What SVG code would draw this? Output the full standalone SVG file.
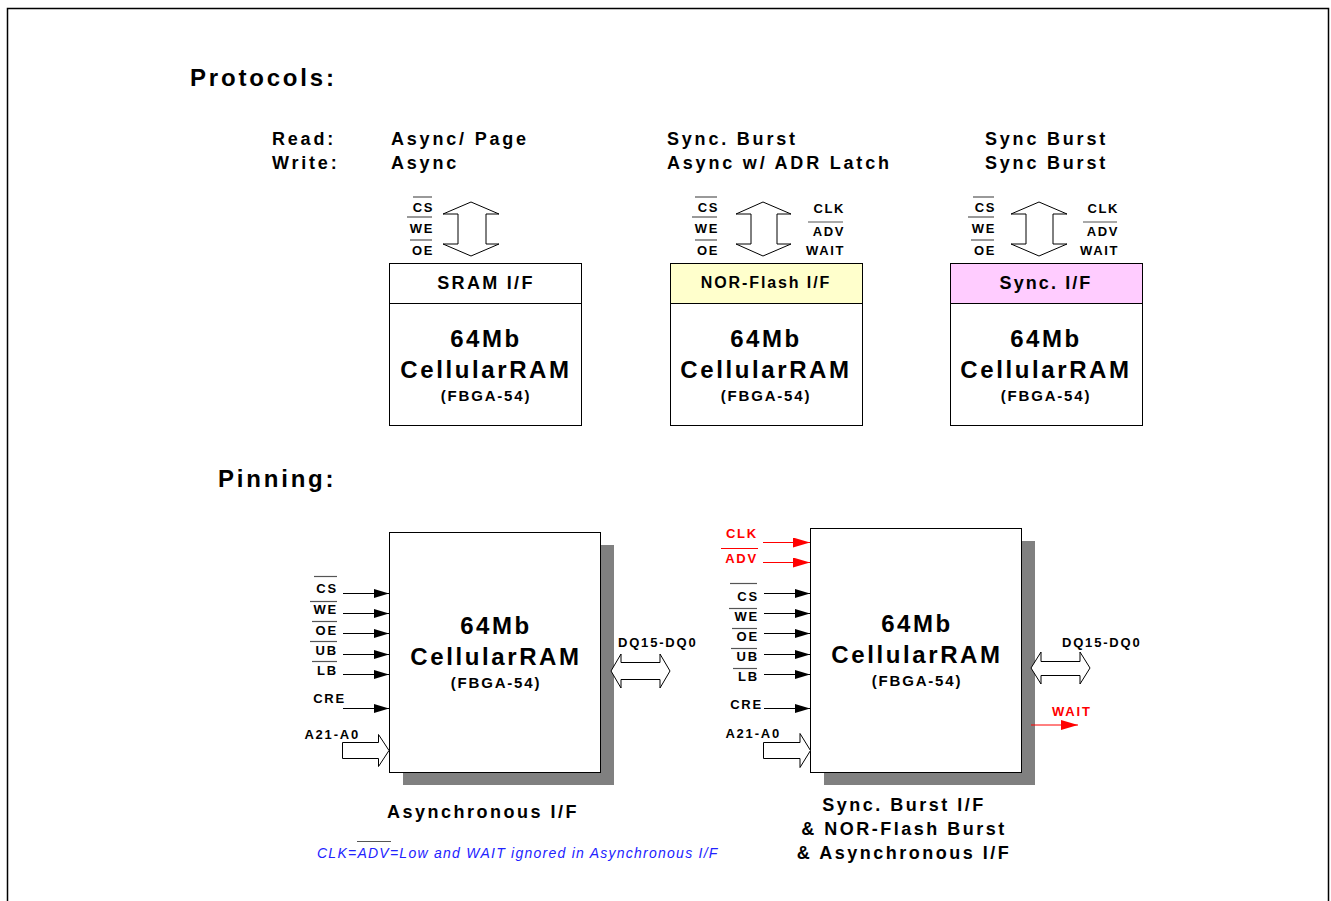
<svg xmlns="http://www.w3.org/2000/svg" width="1331" height="901" viewBox="0 0 1331 901">
<defs>
<style>
text{font-family:"Liberation Sans",Arial,sans-serif;font-weight:bold;fill:#000}
.h1{font-size:24px;letter-spacing:2.8px}
.proto{font-size:18px;letter-spacing:2.8px}
.sig{font-size:13px;letter-spacing:1.6px}
.pin{font-size:13px;letter-spacing:1.8px}
.hdr{font-size:18px;letter-spacing:2.3px;text-anchor:middle}
.big{font-size:24px;letter-spacing:2.6px;text-anchor:middle}
.pkg{font-size:15px;letter-spacing:1.8px;text-anchor:middle}
.cap{font-size:18px;letter-spacing:2.5px;text-anchor:middle}
.red{fill:#FF0000}
.end{text-anchor:end}
.box{fill:#fff;stroke:#000;stroke-width:1}
.shadow{fill:#808080}
.ol{stroke:#555;stroke-width:1.2}
.olr{stroke:#FF0000;stroke-width:1.2}
.wire{stroke:#000;stroke-width:1;fill:none}
.wirer{stroke:#FF0000;stroke-width:1;fill:none}
.fat{fill:#fff;stroke:#000;stroke-width:1}
.note{font-family:"Liberation Sans",Arial,sans-serif;font-weight:normal;font-style:italic;font-size:14px;letter-spacing:1.25px;fill:#2222FF}
</style>
<marker id="ah" markerUnits="userSpaceOnUse" markerWidth="15" markerHeight="9" refX="15" refY="4.5" orient="auto"><path d="M0,0 L15,4.5 L0,9 z" fill="#000"/></marker>
<marker id="ahr" markerUnits="userSpaceOnUse" markerWidth="17" markerHeight="10" refX="17" refY="5" orient="auto"><path d="M0,0 L17,5 L0,10 z" fill="#FF0000"/></marker>
</defs>
<rect x="0" y="0" width="1331" height="901" fill="#fff"/>
<rect x="7.5" y="8.5" width="1321" height="900" fill="none" stroke="#000" stroke-width="1.5"/>

<g id="headings">
<text class="h1" x="190" y="86">Protocols:</text>
<text class="h1" x="218" y="487">Pinning:</text>
<text class="proto" x="272" y="145">Read:</text>
<text class="proto" x="272" y="169">Write:</text>
<text class="proto" x="391" y="145">Async/ Page</text>
<text class="proto" x="391" y="169">Async</text>
<text class="proto" x="667" y="145">Sync. Burst</text>
<text class="proto" x="667" y="169">Async w/ ADR Latch</text>
<text class="proto" x="985" y="145">Sync Burst</text>
<text class="proto" x="985" y="169">Sync Burst</text>
</g>

<g id="proto-sram">
<rect class="box" x="389.5" y="263.5" width="192" height="162"/>
<line class="wire" x1="389.5" y1="303.5" x2="581.5" y2="303.5"/>
<text class="hdr" x="486" y="289">SRAM I/F</text>
<text class="big" x="486" y="347">64Mb</text>
<text class="big" x="486" y="378">CellularRAM</text>
<text class="pkg" x="486" y="401">(FBGA-54)</text>
<polygon class="fat" points="471,202 499,214 486,214 486,244 499,244 471,256 443,244 458,244 458,214 443,214"/>
<text class="sig end" x="434" y="212">CS</text>
<text class="sig end" x="434" y="233">WE</text>
<text class="sig end" x="434" y="255">OE</text>
<line class="ol" x1="413" y1="197" x2="432" y2="197"/>
<line class="ol" x1="407" y1="217" x2="432" y2="217"/>
<line class="ol" x1="410" y1="240" x2="432" y2="240"/>
</g>

<g id="proto-nor">
<rect x="670.5" y="263.5" width="192" height="40" fill="#FFFFCC"/>
<rect class="box" x="670.5" y="263.5" width="192" height="162" style="fill:none"/>
<line class="wire" x1="670.5" y1="303.5" x2="862.5" y2="303.5"/>
<text class="hdr" x="766" y="288" style="font-size:16px;letter-spacing:1.9px">NOR-Flash I/F</text>
<text class="big" x="766" y="347">64Mb</text>
<text class="big" x="766" y="378">CellularRAM</text>
<text class="pkg" x="766" y="401">(FBGA-54)</text>
<polygon class="fat" points="763,202 791,214 777,214 777,244 791,244 763,256 736,244 751,244 751,214 736,214"/>
<text class="sig end" x="719" y="212">CS</text>
<text class="sig end" x="719" y="233">WE</text>
<text class="sig end" x="719" y="255">OE</text>
<line class="ol" x1="695" y1="197" x2="717" y2="197"/>
<line class="ol" x1="692" y1="217" x2="717" y2="217"/>
<line class="ol" x1="695" y1="240" x2="717" y2="240"/>
<text class="sig end" x="845" y="213">CLK</text>
<text class="sig end" x="845" y="236">ADV</text>
<text class="sig end" x="845" y="255">WAIT</text>
<line class="ol" x1="808" y1="222" x2="843" y2="222"/>
</g>

<g id="proto-sync">
<rect x="950.5" y="263.5" width="192" height="40" fill="#FFCCFF"/>
<rect class="box" x="950.5" y="263.5" width="192" height="162" style="fill:none"/>
<line class="wire" x1="950.5" y1="303.5" x2="1142.5" y2="303.5"/>
<text class="hdr" x="1046" y="289" style="letter-spacing:2.1px">Sync. I/F</text>
<text class="big" x="1046" y="347">64Mb</text>
<text class="big" x="1046" y="378">CellularRAM</text>
<text class="pkg" x="1046" y="401">(FBGA-54)</text>
<polygon class="fat" points="1039,202 1067,214 1053,214 1053,244 1067,244 1039,256 1011,244 1026,244 1026,214 1011,214"/>
<text class="sig end" x="996" y="212">CS</text>
<text class="sig end" x="996" y="233">WE</text>
<text class="sig end" x="996" y="255">OE</text>
<line class="ol" x1="973" y1="197" x2="994" y2="197"/>
<line class="ol" x1="968" y1="217" x2="994" y2="217"/>
<line class="ol" x1="971" y1="240" x2="994" y2="240"/>
<text class="sig end" x="1119" y="213">CLK</text>
<text class="sig end" x="1119" y="236">ADV</text>
<text class="sig end" x="1119" y="255">WAIT</text>
<line class="ol" x1="1083" y1="222" x2="1117" y2="222"/>
</g>

<g id="pin-async">
<rect class="shadow" x="403" y="545" width="211" height="240"/>
<rect class="box" x="389.5" y="532.5" width="211" height="240"/>
<text class="big" x="496" y="634">64Mb</text>
<text class="big" x="496" y="665">CellularRAM</text>
<text class="pkg" x="496" y="688">(FBGA-54)</text>
<text class="pin end" x="338" y="593">CS</text>
<text class="pin end" x="338" y="614">WE</text>
<text class="pin end" x="338" y="635">OE</text>
<text class="pin end" x="338" y="655">UB</text>
<text class="pin end" x="338" y="675">LB</text>
<text class="pin end" x="346" y="703">CRE</text>
<text class="pin end" x="360" y="739">A21-A0</text>
<line class="ol" x1="314" y1="576.5" x2="337" y2="576.5"/>
<line class="ol" x1="310" y1="601.5" x2="337" y2="601.5"/>
<line class="ol" x1="312" y1="621.5" x2="337" y2="621.5"/>
<line class="ol" x1="310" y1="641.5" x2="337" y2="641.5"/>
<line class="ol" x1="312" y1="661.5" x2="337" y2="661.5"/>
<text class="cap" x="483" y="818">Asynchronous I/F</text>
</g>

<g id="pin-sync">
<rect class="shadow" x="824" y="541" width="211" height="244"/>
<rect class="box" x="810.5" y="528.5" width="211" height="244"/>
<text class="big" x="917" y="632">64Mb</text>
<text class="big" x="917" y="663">CellularRAM</text>
<text class="pkg" x="917" y="686">(FBGA-54)</text>
<text class="pin end red" x="758" y="538">CLK</text>
<text class="pin end red" x="758" y="563">ADV</text>
<line class="olr" x1="721" y1="548.5" x2="758" y2="548.5"/>
<text class="pin end" x="759" y="601">CS</text>
<text class="pin end" x="759" y="621">WE</text>
<text class="pin end" x="759" y="641">OE</text>
<text class="pin end" x="759" y="661">UB</text>
<text class="pin end" x="759" y="681">LB</text>
<text class="pin end" x="763" y="709">CRE</text>
<text class="pin end" x="781" y="738">A21-A0</text>
<line class="ol" x1="730" y1="583.5" x2="757" y2="583.5"/>
<line class="ol" x1="729" y1="608.5" x2="757" y2="608.5"/>
<line class="ol" x1="732" y1="628.5" x2="757" y2="628.5"/>
<line class="ol" x1="731" y1="648.5" x2="757" y2="648.5"/>
<line class="ol" x1="733" y1="668.5" x2="757" y2="668.5"/>
<text class="pin" x="1062" y="647">DQ15-DQ0</text>
<text class="pin red" x="1052" y="716">WAIT</text>
<text class="cap" x="904" y="811">Sync. Burst I/F</text>
<text class="cap" x="904" y="835">&amp; NOR-Flash Burst</text>
<text class="cap" x="904" y="859">&amp; Asynchronous I/F</text>
</g>

<g id="connectors">
<line class="wire" x1="343" y1="593.5" x2="389" y2="593.5" marker-end="url(#ah)"/>
<line class="wire" x1="343" y1="613.5" x2="389" y2="613.5" marker-end="url(#ah)"/>
<line class="wire" x1="343" y1="633.5" x2="389" y2="633.5" marker-end="url(#ah)"/>
<line class="wire" x1="343" y1="654.5" x2="389" y2="654.5" marker-end="url(#ah)"/>
<line class="wire" x1="343" y1="674.5" x2="389" y2="674.5" marker-end="url(#ah)"/>
<line class="wire" x1="343" y1="708.5" x2="389" y2="708.5" marker-end="url(#ah)"/>
<polygon class="fat" points="342.5,742.5 378.5,742.5 378.5,734.5 389,750.5 378.5,766.5 378.5,758.5 342.5,758.5"/>
<polygon class="fat" points="611,671 621,654 621,662.5 660,662.5 660,654 670,671 660,688 660,679.5 621,679.5 621,688"/>
<text class="pin" x="618" y="647">DQ15-DQ0</text>

<line class="wirer" x1="763" y1="542.5" x2="810" y2="542.5" marker-end="url(#ahr)"/>
<line class="wirer" x1="763" y1="562.5" x2="810" y2="562.5" marker-end="url(#ahr)"/>
<line class="wire" x1="764" y1="593.5" x2="810" y2="593.5" marker-end="url(#ah)"/>
<line class="wire" x1="764" y1="613.5" x2="810" y2="613.5" marker-end="url(#ah)"/>
<line class="wire" x1="764" y1="633.5" x2="810" y2="633.5" marker-end="url(#ah)"/>
<line class="wire" x1="764" y1="654.5" x2="810" y2="654.5" marker-end="url(#ah)"/>
<line class="wire" x1="764" y1="674.5" x2="810" y2="674.5" marker-end="url(#ah)"/>
<line class="wire" x1="764" y1="708.5" x2="810" y2="708.5" marker-end="url(#ah)"/>
<polygon class="fat" points="763.5,742.5 800,742.5 800,733.5 810.5,750.5 800,767.5 800,758.5 763.5,758.5"/>
<polygon class="fat" points="1031,668 1041,652 1041,661.5 1080,661.5 1080,652 1090,668 1080,684 1080,675.5 1041,675.5 1041,684"/>
<line class="wirer" x1="1031" y1="725" x2="1078" y2="725" marker-end="url(#ahr)"/>
</g>

<g id="note">
<text class="note" x="317" y="858">CLK=ADV=Low and WAIT ignored in Asynchronous I/F</text>
<line class="ol" x1="357" y1="841.5" x2="391" y2="841.5"/>
</g>
</svg>
